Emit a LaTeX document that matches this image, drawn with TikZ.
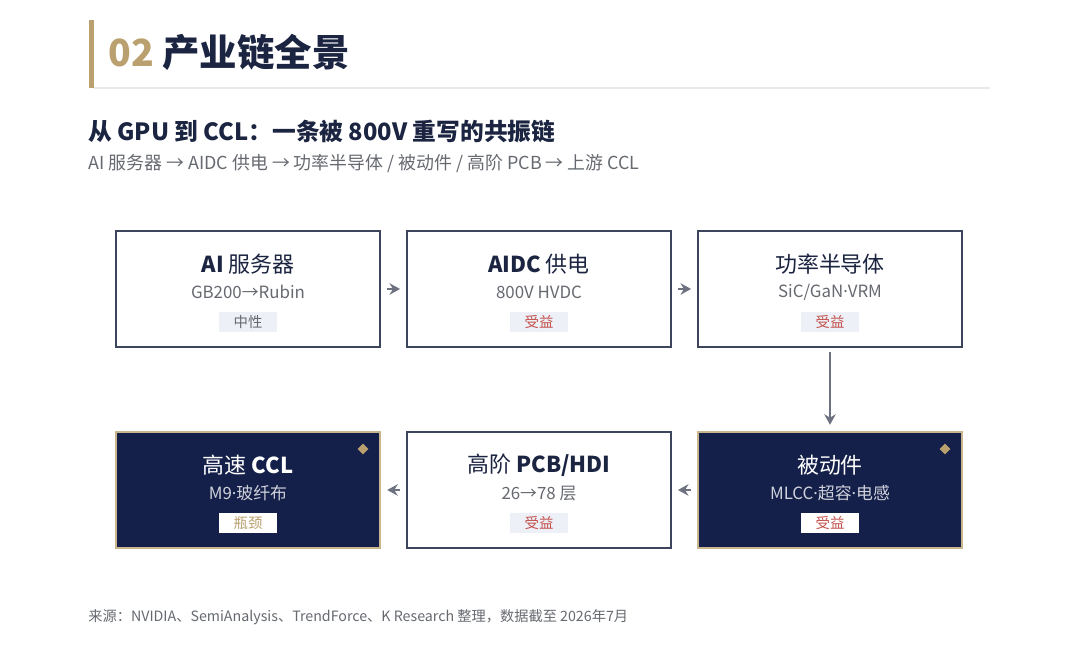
\documentclass[tikz,border=0pt]{standalone}
\usepackage{fontspec}
\setmainfont{Noto Sans CJK SC}
\newfontfamily\latinfont{Noto Sans}
\newcommand{\mdot}{{\latinfont ·}}
\usetikzlibrary{arrows.meta,positioning,calc,shapes.geometric}

\definecolor{navy}{HTML}{14204A}
\definecolor{ink}{HTML}{1B2440}
\definecolor{gold}{HTML}{B9A06E}
\definecolor{goldline}{HTML}{C9B68C}
\definecolor{greytxt}{HTML}{666A70}
\definecolor{arrowgrey}{HTML}{6E7280}
\definecolor{tagbg}{HTML}{EDF0F6}
\definecolor{redtxt}{HTML}{C4504C}
\definecolor{rule}{HTML}{E9E9EC}

\begin{document}
\begin{tikzpicture}[x=0.02cm,y=-0.02cm,
  lightbox/.style={draw=ink!85,line width=0.9pt,fill=white,rectangle,minimum width=5.28cm,minimum height=2.32cm},
  darkbox/.style={draw=goldline,line width=1.2pt,fill=navy,rectangle,minimum width=5.28cm,minimum height=2.32cm},
  boxtitle/.style={font=\fontsize{12.5}{14}\selectfont,text=ink,inner sep=0pt},
  boxsub/.style={font=\fontsize{9.6}{11}\selectfont,text=greytxt,inner sep=0pt},
  tag/.style={fill=tagbg,minimum width=1.18cm,minimum height=0.4cm,inner sep=0pt,font=\fontsize{8.2}{10}\selectfont},
  gem/.style={diamond,fill=gold,inner sep=0pt,minimum size=0.22cm},
  flow/.style={-{Stealth[length=6pt,width=6.5pt]},arrowgrey,line width=1pt,shorten <=3.5pt,shorten >=3.5pt}]
\useasboundingbox[fill=white] (0,0) rectangle (1080,648);

\fill[gold] (89,20) rectangle (94,88);
\draw[rule,line width=0.6pt] (94,88) -- (990,88);
\node[anchor=west,inner sep=0pt,font=\fontsize{21.3}{24}\selectfont\bfseries] (head) at (108,52) {\textcolor{gold}{02} \textcolor{ink}{产业链全景}};
\node[anchor=west,inner sep=0pt,font=\fontsize{13.5}{16}\selectfont\bfseries,text=ink] (sub) at (88,132) {从 GPU 到 CCL：一条被 800V 重写的共振链};
\node[anchor=west,inner sep=0pt,font=\fontsize{10.2}{12}\selectfont,text=greytxt] (path) at (88,164) {AI 服务器 → AIDC 供电 → 功率半导体 / 被动件 / 高阶 PCB → 上游 CCL};

\node[lightbox] (srv) at (248,289) {};
\node[lightbox] (pwr) at (539,289) {};
\node[lightbox] (semi) at (830,289) {};
\node[darkbox] (psv) at (830,490) {};
\node[lightbox] (pcb) at (539,490) {};
\node[darkbox] (ccl) at (248,490) {};

\node[boxtitle] (srvt) at ($(srv.north)+(0,34)$) {\textbf{AI} 服务器};
\node[boxsub] (srvs) at ($(srv.north)+(0,62)$) {GB200→Rubin};
\node[tag,text=greytxt] (srvg) at ($(srv.north)+(0,92)$) {中性};

\node[boxtitle] (pwrt) at ($(pwr.north)+(0,34)$) {\textbf{AIDC} 供电};
\node[boxsub] (pwrs) at ($(pwr.north)+(0,62)$) {800V HVDC};
\node[tag,text=redtxt] (pwrg) at ($(pwr.north)+(0,92)$) {受益};

\node[boxtitle] (semit) at ($(semi.north)+(0,34)$) {功率半导体};
\node[boxsub] (semis) at ($(semi.north)+(0,62)$) {SiC/GaN\mdot VRM};
\node[tag,text=redtxt] (semig) at ($(semi.north)+(0,92)$) {受益};

\node[boxtitle,text=white] (psvt) at ($(psv.north)+(0,34)$) {被动件};
\node[boxsub,text=white!80!navy] (psvs) at ($(psv.north)+(0,62)$) {MLCC\mdot 超容\mdot 电感};
\node[tag,fill=white,text=redtxt] (psvg) at ($(psv.north)+(0,92)$) {受益};
\node[gem] (psvd) at ($(psv.north east)+(-18,18)$) {};

\node[boxtitle] (pcbt) at ($(pcb.north)+(0,34)$) {高阶 \textbf{PCB/HDI}};
\node[boxsub] (pcbs) at ($(pcb.north)+(0,62)$) {26→78 层};
\node[tag,text=redtxt] (pcbg) at ($(pcb.north)+(0,92)$) {受益};

\node[boxtitle,text=white] (cclt) at ($(ccl.north)+(0,34)$) {高速 \textbf{CCL}};
\node[boxsub,text=white!80!navy] (ccls) at ($(ccl.north)+(0,62)$) {M9\mdot 玻纤布};
\node[tag,fill=white,text=gold] (cclg) at ($(ccl.north)+(0,92)$) {瓶颈};
\node[gem] (ccld) at ($(ccl.north east)+(-18,18)$) {};

\draw[flow] (srv) -- (pwr);
\draw[flow] (pwr) -- (semi);
\draw[flow,shorten <=2.5pt,shorten >=3.5pt] (semi) -- (psv);
\draw[flow] (psv) -- (pcb);
\draw[flow] (pcb) -- (ccl);

\node[anchor=west,inner sep=0pt,font=\fontsize{8.1}{10}\selectfont,text=greytxt] (src) at (88,617) {来源：NVIDIA、SemiAnalysis、TrendForce、K Research 整理，数据截至 2026年7月};
\end{tikzpicture}
\end{document}
